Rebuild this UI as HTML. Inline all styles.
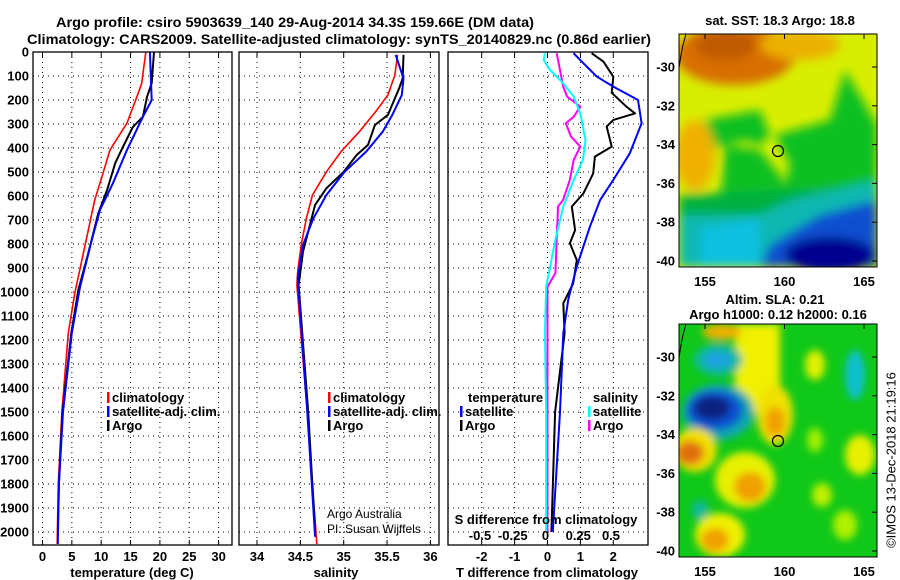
<!DOCTYPE html>
<html><head><meta charset="utf-8"><style>
html,body{margin:0;padding:0;background:#fff;}
svg{display:block;font-family:"Liberation Sans",sans-serif;}
.b{font-weight:bold;font-size:13px;fill:#000;}
.t{font-weight:bold;font-size:14px;fill:#000;}
</style></head><body>
<svg id="fig" width="900" height="580" viewBox="0 0 900 580">
<defs>
<filter id="bl" x="-20%" y="-20%" width="140%" height="140%"><feGaussianBlur stdDeviation="5"/></filter>
<filter id="bl2" x="-20%" y="-20%" width="140%" height="140%"><feGaussianBlur stdDeviation="4"/></filter>
<clipPath id="c1"><rect x="679" y="34" width="198" height="233"/></clipPath>
<clipPath id="c2"><rect x="679" y="324" width="198" height="233"/></clipPath>
</defs>
<text class="t" x="56" y="27" textLength="478" lengthAdjust="spacingAndGlyphs">Argo profile: csiro 5903639_140 29-Aug-2014 34.3S 159.66E (DM data)</text>
<text class="t" x="27" y="44" textLength="624" lengthAdjust="spacingAndGlyphs">Climatology: CARS2009. Satellite-adjusted climatology: synTS_20140829.nc (0.86d earlier)</text>
<g id="panels"></g>
<!-- top map -->
<g>
<g clip-path="url(#c1)">
<rect x="679" y="34" width="198" height="233" fill="#d8ee00"/>
<g filter="url(#bl)">
<ellipse cx="735" cy="55" rx="60" ry="30" fill="#d86e00"/>
<ellipse cx="725" cy="45" rx="30" ry="15" fill="#c05a00"/>
<ellipse cx="800" cy="45" rx="40" ry="15" fill="#ecb000"/>
<polygon points="705,120 760,110 770,135 760,145 745,140 725,145 705,150" fill="#10c020"/>
<polygon points="775,135 830,120 845,70 877,125 877,200 780,200 790,165" fill="#10c020"/>
<polygon points="725,145 760,150 780,175 790,200 720,205" fill="#10c020"/>
<ellipse cx="695" cy="155" rx="20" ry="35" fill="#f0b000"/>
<polygon points="679,195 877,185 877,230 679,240" fill="#00b040"/>
<polygon points="679,215 760,215 790,200 877,180 877,267 679,267" fill="#10b8b0"/>
<polygon points="700,228 760,218 760,267 700,267" fill="#10c0e0"/>
<polygon points="770,245 820,215 877,200 877,267 760,267" fill="#1050d0"/>
<ellipse cx="830" cy="255" rx="45" ry="18" fill="#000090"/>
</g>
<path d="M686,34 L683,45 L681,55 L679,68" stroke="#000" fill="none" stroke-width="1"/>
</g>
<rect x="679" y="34" width="198" height="233" fill="none" stroke="#000" stroke-width="1"/>
<circle cx="778" cy="151" r="5.5" fill="none" stroke="#000" stroke-width="1.2"/>
<text class="b" x="780" y="25" text-anchor="middle">sat. SST: 18.3 Argo: 18.8</text>
</g>
<!-- bottom map -->
<g>
<g clip-path="url(#c2)">
<rect x="679" y="324" width="198" height="233" fill="#10c818"/>
<g filter="url(#bl2)">
<rect x="735" y="324" width="45" height="90" fill="#f0f000"/>
<ellipse cx="722" cy="332" rx="20" ry="8" fill="#f0b000"/>
<ellipse cx="718" cy="360" rx="24" ry="16" fill="#10b8a0"/>
<ellipse cx="718" cy="360" rx="14" ry="8" fill="#1aa0e0"/>
<ellipse cx="718" cy="412" rx="36" ry="28" fill="#10a8b0"/>
<ellipse cx="715" cy="410" rx="28" ry="20" fill="#0a50d0"/>
<ellipse cx="712" cy="408" rx="18" ry="12" fill="#0a2080"/>
<ellipse cx="775" cy="415" rx="18" ry="30" fill="#f0e000"/>
<ellipse cx="775" cy="422" rx="10" ry="15" fill="#f0a000"/>
<ellipse cx="695" cy="450" rx="22" ry="22" fill="#f0e000"/>
<ellipse cx="690" cy="453" rx="14" ry="12" fill="#e07010"/>
<ellipse cx="745" cy="480" rx="30" ry="28" fill="#e8f000"/>
<ellipse cx="750" cy="487" rx="16" ry="15" fill="#f0a000"/>
<ellipse cx="720" cy="535" rx="25" ry="22" fill="#f0f000"/>
<ellipse cx="715" cy="540" rx="14" ry="12" fill="#f0a000"/>
<ellipse cx="855" cy="375" rx="10" ry="25" fill="#10c0d0"/>
<ellipse cx="815" cy="365" rx="10" ry="15" fill="#e0f000"/>
<ellipse cx="860" cy="455" rx="15" ry="20" fill="#e8f000"/>
<ellipse cx="822" cy="495" rx="10" ry="12" fill="#c0f000"/>
<ellipse cx="845" cy="525" rx="12" ry="15" fill="#b0f000"/>
<ellipse cx="815" cy="440" rx="8" ry="12" fill="#a0f000"/>
<ellipse cx="700" cy="510" rx="8" ry="10" fill="#10b8a0"/>
</g>
<path d="M686,324 L683,335 L681,345 L679,358" stroke="#000" fill="none" stroke-width="1"/>
</g>
<rect x="679" y="324" width="198" height="233" fill="none" stroke="#000" stroke-width="1"/>
<circle cx="778" cy="441" r="5.5" fill="none" stroke="#000" stroke-width="1.2"/>
<text class="b" x="775" y="304" text-anchor="middle">Altim. SLA: 0.21</text>
<text class="b" x="778" y="319" text-anchor="middle">Argo h1000: 0.12 h2000: 0.16</text>
</g>
<text x="892" y="460" font-size="13" transform="rotate(-90 892 460)" text-anchor="middle" dominant-baseline="middle">©IMOS 13-Dec-2018 21:19:16</text>
<g id="maplabels"></g>
</svg>
<script>
// ---- data ----
const depthTicks=[0,100,200,300,400,500,600,700,800,900,1000,1100,1200,1300,1400,1500,1600,1700,1800,1900,2000];
const tempTicks=[0,5,10,15,20,25,30];
const salTicks=[34,34.5,35,35.5,36];
const salTickLabels=["34","34.5","35","35.5","36"];
const tdTicks=[-2,-1,0,1,2];
const sdTicks=[-0.5,-0.25,0,0.25,0.5];
const sdTickLabels=["-0.5","-0.25","0","0.25","0.5"];

const tClimD=[0,130,172,296,408,505,617,811,1004,1171,1500,1800,2050];
const tClimV=[17.6,16.9,16.3,14.4,11.5,10.3,8.9,7.2,5.5,4.4,3.3,2.7,2.5];
const tSatD=[0,200,270,408,547,658,783,978,1171,1500,1800,2050];
const tSatV=[18.3,18.6,17.1,14.4,12.0,9.8,8.4,6.4,5.0,3.5,2.8,2.6];
const tArgoD=[0,130,187,270,312,396,462,575,672,838,992,1171,1500,1800,2000];
const tArgoV=[19.0,18.6,17.8,17.1,15.4,13.7,12.4,11.0,9.5,7.8,6.1,4.9,3.4,2.8,2.6];

const sClimD=[12,96,179,248,332,415,499,596,693,804,915,971,1500,2050];
const sClimV=[35.62,35.59,35.51,35.37,35.18,34.97,34.80,34.64,34.57,34.51,34.47,34.46,34.58,34.69];
const sArgoD=[12,110,151,262,304,387,429,499,568,637,721,832,971,1500,2000];
const sArgoV=[35.69,35.68,35.64,35.51,35.36,35.28,35.15,35.0,34.80,34.67,34.61,34.53,34.48,34.59,34.67];
const sSatD=[12,110,179,262,332,415,499,596,693,804,943,1500,2020];
const sSatV=[35.6,35.69,35.67,35.56,35.45,35.26,35.01,34.80,34.65,34.53,34.47,34.58,34.67];

const dtSatD=[5,61,103,144,200,297,422,533,617,728,894,1033,1172,1500,2000];
const dtSatV=[0.79,1.19,1.5,2.0,2.75,2.86,2.5,2.0,1.6,1.29,0.89,0.63,0.48,0.38,0.16];
const dtArgoD=[5,40,103,170,228,256,283,311,394,436,506,589,644,742,797,867,964,1047,1172,1500,2000];
const dtArgoV=[1.34,1.7,2.0,1.95,2.4,2.66,2.0,1.8,1.95,1.44,1.39,1.09,0.74,0.84,0.68,0.89,0.78,0.48,0.52,0.23,0.12];
const dsArgoD=[5,144,186,228,270,297,353,394,450,533,616,644,922,978,1500,2000];
const dsArgoV=[0.07,0.12,0.15,0.25,0.2,0.14,0.18,0.25,0.2,0.17,0.12,0.08,0.06,0.0,0.0,0.0];
const dsSatD=[5,33,75,130,186,256,367,450,533,644,783,978,1172,1500,2000];
const dsSatV=[-0.02,-0.03,0.02,0.12,0.2,0.25,0.29,0.27,0.2,0.12,0.06,-0.01,-0.02,-0.01,-0.01];

// ---- scales ----
const Y0=52, KY=0.24, YB=545;
function yD(d){return Y0+KY*d;}
function xT(t){return 42.5+5.87*t;}
function xS(s){return 257+86.7*(s-34);}
function xDT(v){return 547.5+32.9*v;}
function xDS(v){return 547.5+131*v;}

const NS="http://www.w3.org/2000/svg";
const root=document.getElementById('panels');
function mk(tag,attrs,parent){const e=document.createElementNS(NS,tag);for(const k in attrs)e.setAttribute(k,attrs[k]);(parent||root).appendChild(e);return e;}
function txt(s,x,y,attrs,parent){const e=mk('text',Object.assign({x:x,y:y},attrs),parent);e.textContent=s;return e;}

const panels=[{x0:33,x1:232,n:'temperature-panel'},{x0:239,x1:439,n:'salinity-panel'},{x0:448,x1:648,n:'difference-panel'}];
const pgroups=[];
panels.forEach(p=>{
  const g=mk('g',{});
  
  
  pgroups.push(g);
  depthTicks.forEach(d=>{
    if(d===0)return;
    const l=mk('line',{x1:p.x0,x2:p.x1,y1:yD(d),y2:yD(d),stroke:'#000','stroke-dasharray':'1,4','stroke-width':1},g);
    
    
  });
});
function vgrid(g,vals,fx){vals.forEach(v=>{const l=mk('line',{x1:fx(v),x2:fx(v),y1:Y0,y2:YB,stroke:'#000','stroke-dasharray':'1,4','stroke-width':1},g);
  
  
  mk('line',{x1:fx(v),x2:fx(v),y1:Y0,y2:Y0+5,stroke:'#000'},g);mk('line',{x1:fx(v),x2:fx(v),y1:YB-5,y2:YB,stroke:'#000'},g);});}
vgrid(pgroups[0],tempTicks,xT);
vgrid(pgroups[1],salTicks,xS);
vgrid(pgroups[2],tdTicks,xDT);

function line(g,D,V,fx,color,w,name){
  const pts=D.map((d,i)=>fx(V[i]).toFixed(1)+','+yD(d).toFixed(1)).join(' ');
  const pl=mk('polyline',{points:pts,fill:'none',stroke:color,'stroke-width':w,'stroke-linejoin':'round'},g);
  
  
}
line(pgroups[0],tClimD,tClimV,xT,'#f00',1.6,'temp-climatology-line');
line(pgroups[0],tArgoD,tArgoV,xT,'#000',2,'temp-argo-line');
line(pgroups[0],tSatD,tSatV,xT,'#00f',2,'temp-satellite-line');
line(pgroups[1],sClimD,sClimV,xS,'#f00',1.6,'sal-climatology-line');
line(pgroups[1],sArgoD,sArgoV,xS,'#000',2,'sal-argo-line');
line(pgroups[1],sSatD,sSatV,xS,'#00f',2,'sal-satellite-line');
line(pgroups[2],dsArgoD,dsArgoV,xDS,'#f0f',2,'sdiff-argo-line');
line(pgroups[2],dsSatD,dsSatV,xDS,'#0ff',2,'sdiff-satellite-line');
line(pgroups[2],dtArgoD,dtArgoV,xDT,'#000',2,'tdiff-argo-line');
line(pgroups[2],dtSatD,dtSatV,xDT,'#00f',2,'tdiff-satellite-line');

panels.forEach((p,i)=>{mk('rect',{x:p.x0,y:Y0,width:p.x1-p.x0,height:YB-Y0,fill:'none',stroke:'#000','stroke-width':1.3},pgroups[i]);});

depthTicks.forEach(d=>{const t=txt(String(d),29,yD(d)+4.5,{class:'b','text-anchor':'end'});
  
  });
tempTicks.forEach(v=>{const t=txt(String(v),xT(v),561,{class:'b','text-anchor':'middle'});
  
  });
salTicks.forEach((v,i)=>{const t=txt(salTickLabels[i],xS(v),561,{class:'b','text-anchor':'middle'});
  
  });
tdTicks.forEach(v=>{const t=txt(String(v),xDT(v),561,{class:'b','text-anchor':'middle'});
  
  });
sdTicks.forEach((v,i)=>{const t=txt(sdTickLabels[i],xDS(v)-2,540,{class:'b','text-anchor':'middle'});
  
  });
let t;
t=txt('temperature (deg C)',132,577,{class:'b','text-anchor':'middle'});


t=txt('salinity',336,577,{class:'b','text-anchor':'middle'});


t=txt('T difference from climatology',547,577,{class:'b','text-anchor':'middle'});


t=txt('S difference from climatology',546,524,{class:'b','text-anchor':'middle'});


t=txt('Argo Australia',327,518,{'font-size':12});


t=txt('PI: Susan Wijffels',327,533,{'font-size':12});



function legend(x,y,color,label){
  const g=mk('g',{});
  
  
  mk('rect',{x:x,y:y-10,width:2.5,height:11,fill:color},g);
  txt(label,x+5,y,{class:'b'},g);
}
legend(107,402,'#f00','climatology');legend(107,416,'#00f','satellite-adj. clim.');legend(107,430,'#000','Argo');
legend(328,402,'#f00','climatology');legend(328,416,'#00f','satellite-adj. clim.');legend(328,430,'#000','Argo');
t=txt('temperature',468,402,{class:'b'});


t=txt('salinity',593,402,{class:'b'});


legend(460,416,'#00f','satellite');legend(460,430,'#000','Argo');
legend(588,416,'#0ff','satellite');legend(588,430,'#f0f','Argo');

const ml=document.getElementById('maplabels');
const latTicks=[-30,-32,-34,-36,-38,-40];
const lonTicks=[155,160,165];
function yLat1(l){return 67+(-30-l)*19.4;}
function xLon(l){return 705+(l-155)*15.9;}
[0,290].forEach((off,mi)=>{
  latTicks.forEach(l=>{const e=txt(String(l),675,yLat1(l)+off+4.5,{class:'b','text-anchor':'end'},ml);
    
    
    mk('line',{x1:872,x2:877,y1:yLat1(l)+off,y2:yLat1(l)+off,stroke:'#000'},ml);});
  lonTicks.forEach(l=>{const e=txt(String(l),xLon(l),286+off,{class:'b','text-anchor':'middle'},ml);
    
    
    mk('line',{x1:xLon(l),x2:xLon(l),y1:34+off,y2:39+off,stroke:'#000'},ml);});
});
</script>
</body></html>
